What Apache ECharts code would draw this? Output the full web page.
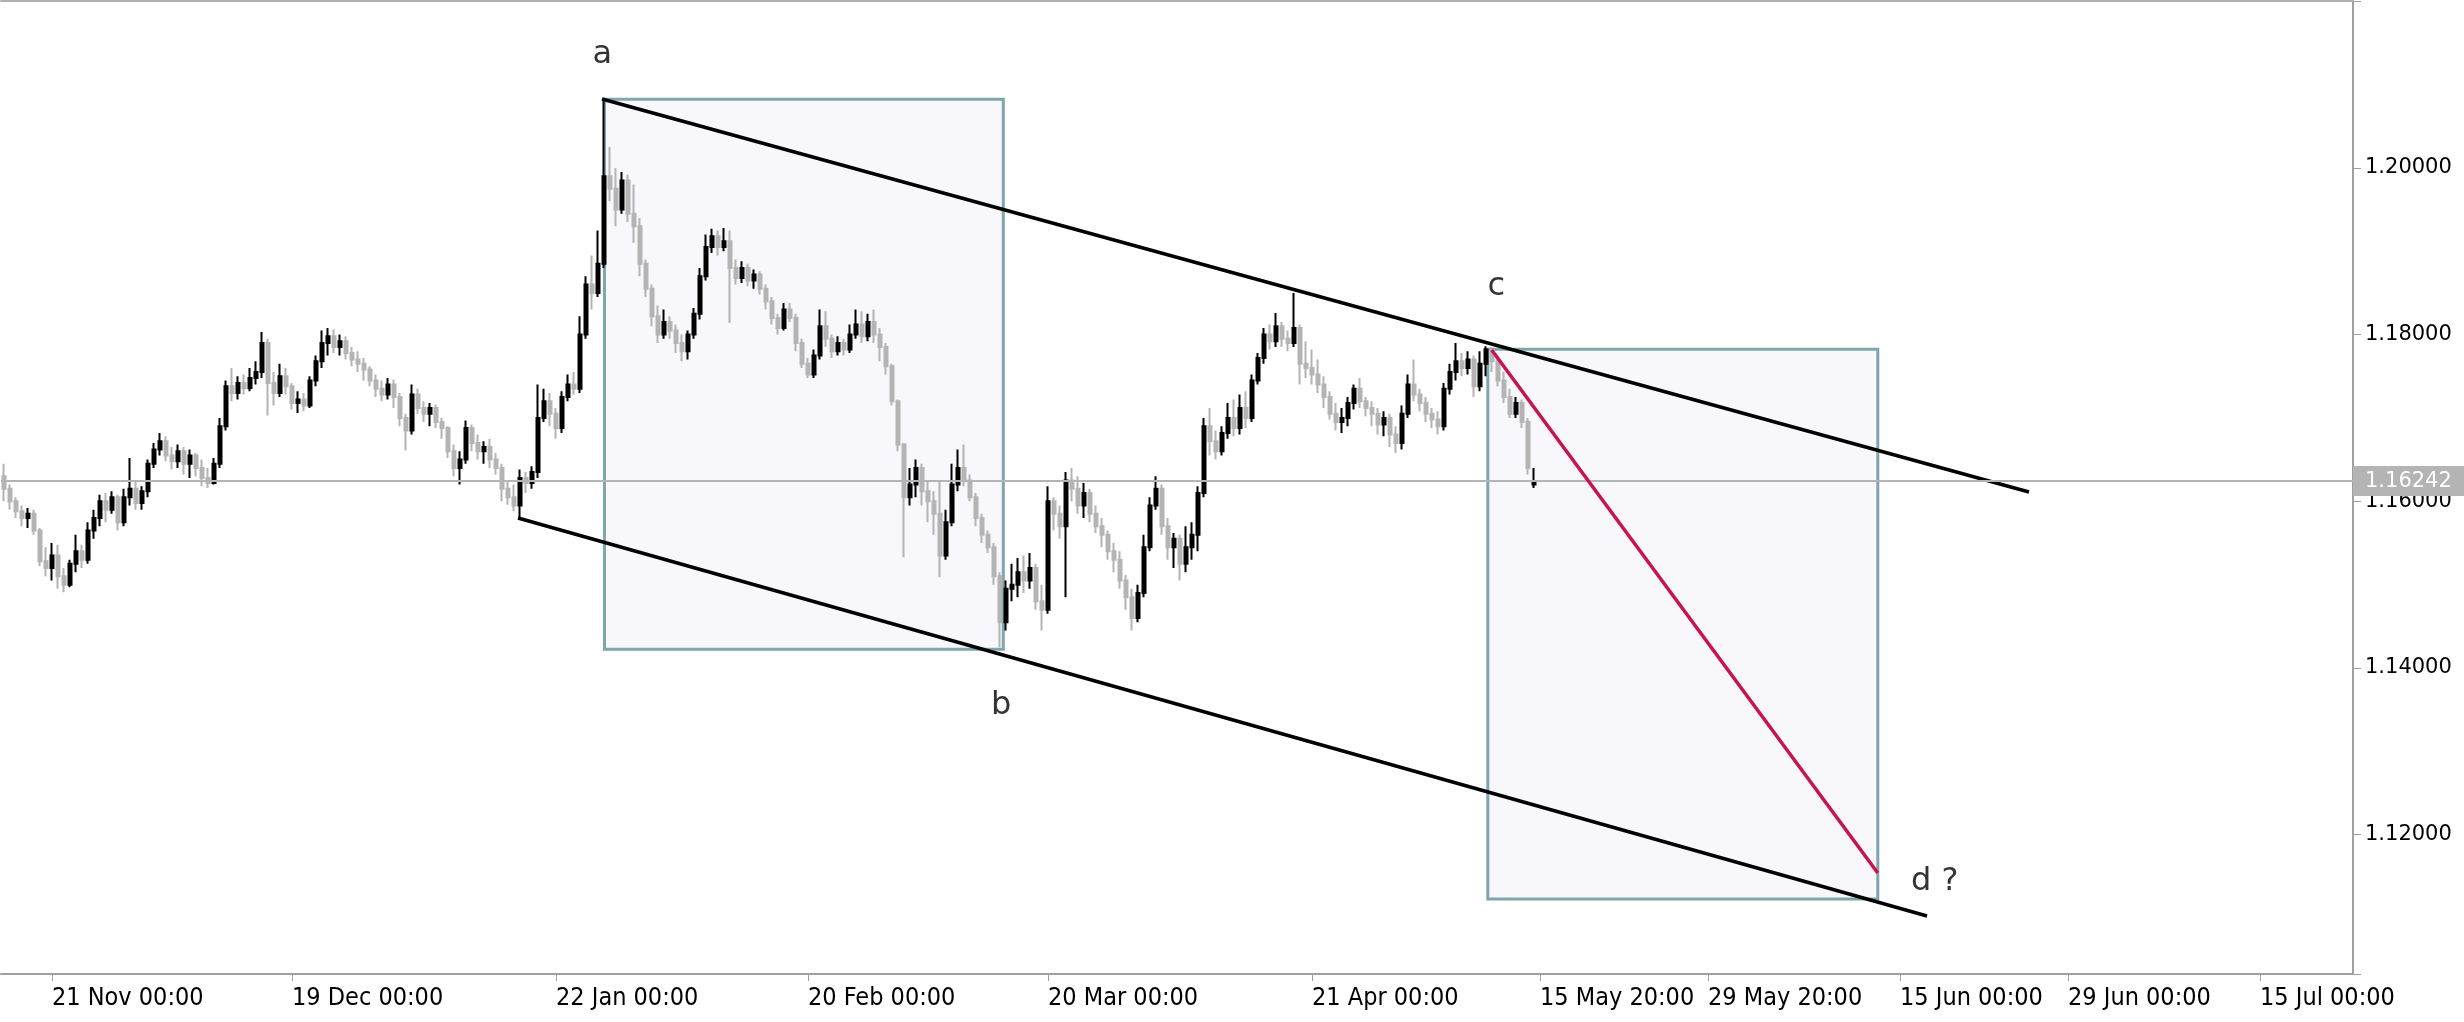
<!DOCTYPE html>
<html><head><meta charset="utf-8">
<script src="https://cdn.jsdelivr.net/npm/echarts@6/dist/echarts.min.js"></script>
<style>html,body{margin:0;padding:0;background:#fff}#c{width:2464px;height:1022px}</style>
</head><body><div id="c"></div>
<script>
// x-axis time labels and the bar slot where each sits
const tickLabels = ['21 Nov 00:00','19 Dec 00:00','22 Jan 00:00','20 Feb 00:00','20 Mar 00:00','21 Apr 00:00','15 May 20:00','29 May 20:00','15 Jun 00:00','29 Jun 00:00','15 Jul 00:00'];
const tickSlots = [8,48,92,134,174,218,256,284,316,344,376];
const slotCount = 392;
const yTickValues = [1.12,1.14,1.16,1.18,1.20];
const yMin = 1.10329, yMax = 1.22002;

// bars: [open, close, low, high]
const candles = [
[1.1630,1.1615,1.1600,1.1645],[1.1615,1.1600,1.1590,1.1620],[1.1600,1.1588,1.1580,1.1605],[1.1588,1.1580,1.1570,1.1595],[1.1580,1.1585,1.1568,1.1592],[1.1585,1.1565,1.1560,1.1590],
[1.1565,1.1528,1.1522,1.1568],[1.1528,1.1520,1.1510,1.1545],[1.1520,1.1535,1.1505,1.1550],[1.1535,1.1510,1.1495,1.1548],[1.1510,1.1500,1.1491,1.1520],[1.1500,1.1525,1.1497,1.1530],
[1.1525,1.1540,1.1515,1.1560],[1.1540,1.1530,1.1520,1.1548],[1.1530,1.1565,1.1525,1.1575],[1.1565,1.1580,1.1555,1.1590],[1.1580,1.1600,1.1570,1.1608],[1.1600,1.1590,1.1575,1.1610],
[1.1590,1.1605,1.1585,1.1612],[1.1605,1.1575,1.1565,1.1608],[1.1575,1.1605,1.1570,1.1615],[1.1605,1.1615,1.1595,1.1652],[1.1615,1.1598,1.1590,1.1625],[1.1598,1.1612,1.1590,1.1618],
[1.1612,1.1645,1.1605,1.1650],[1.1645,1.1662,1.1640,1.1670],[1.1662,1.1672,1.1655,1.1682],[1.1672,1.1655,1.1648,1.1678],[1.1655,1.1648,1.1638,1.1665],[1.1648,1.1660,1.1640,1.1668],
[1.1660,1.1645,1.1632,1.1665],[1.1645,1.1655,1.1628,1.1662],[1.1655,1.1640,1.1630,1.1658],[1.1640,1.1628,1.1618,1.1650],[1.1628,1.1622,1.1616,1.1640],[1.1622,1.1645,1.1620,1.1652],
[1.1645,1.1690,1.1640,1.1700],[1.1690,1.1738,1.1685,1.1745],[1.1738,1.1730,1.1720,1.1760],[1.1730,1.1742,1.1722,1.1750],[1.1742,1.1736,1.1728,1.1752],[1.1736,1.1748,1.1732,1.1760],
[1.1748,1.1755,1.1740,1.1768],[1.1755,1.1790,1.1748,1.1803],[1.1790,1.1742,1.1703,1.1795],[1.1742,1.1730,1.1715,1.1755],[1.1730,1.1750,1.1725,1.1765],[1.1750,1.1738,1.1728,1.1760],
[1.1738,1.1718,1.1710,1.1742],[1.1718,1.1722,1.1706,1.1732],[1.1722,1.1715,1.1708,1.1730],[1.1715,1.1745,1.1712,1.1750],[1.1745,1.1768,1.1738,1.1775],[1.1768,1.1790,1.1760,1.1805],
[1.1790,1.1798,1.1775,1.1808],[1.1798,1.1785,1.1778,1.1806],[1.1785,1.1792,1.1775,1.1800],[1.1792,1.1778,1.1770,1.1798],[1.1778,1.1770,1.1762,1.1785],[1.1770,1.1765,1.1755,1.1780],
[1.1765,1.1758,1.1745,1.1772],[1.1758,1.1745,1.1738,1.1762],[1.1745,1.1735,1.1725,1.1752],[1.1735,1.1728,1.1720,1.1745],[1.1728,1.1740,1.1722,1.1748],[1.1740,1.1725,1.1712,1.1746],
[1.1725,1.1700,1.1690,1.1730],[1.1700,1.1685,1.1661,1.1705],[1.1685,1.1728,1.1680,1.1740],[1.1728,1.1712,1.1705,1.1735],[1.1712,1.1705,1.1695,1.1720],[1.1705,1.1712,1.1690,1.1718],
[1.1712,1.1695,1.1688,1.1716],[1.1695,1.1688,1.1675,1.1700],[1.1688,1.1660,1.1652,1.1690],[1.1660,1.1640,1.1630,1.1668],[1.1640,1.1650,1.1620,1.1660],[1.1650,1.1688,1.1645,1.1697],
[1.1688,1.1670,1.1660,1.1692],[1.1670,1.1660,1.1650,1.1680],[1.1660,1.1665,1.1645,1.1672],[1.1665,1.1650,1.1640,1.1675],[1.1650,1.1640,1.1632,1.1658],[1.1640,1.1615,1.1600,1.1645],
[1.1615,1.1605,1.1596,1.1625],[1.1605,1.1595,1.1588,1.1620],[1.1595,1.1628,1.1581,1.1638],[1.1628,1.1622,1.1610,1.1635],[1.1622,1.1635,1.1615,1.1642],[1.1635,1.1700,1.1628,1.1740],
[1.1700,1.1720,1.1695,1.1735],[1.1720,1.1705,1.1690,1.1730],[1.1705,1.1688,1.1675,1.1712],[1.1688,1.1725,1.1682,1.1732],[1.1725,1.1740,1.1720,1.1752],[1.1740,1.1735,1.1728,1.1755],
[1.1735,1.1800,1.1730,1.1822],[1.1800,1.1860,1.1795,1.1870],[1.1860,1.1850,1.1830,1.1895],[1.1850,1.1885,1.1845,1.1925],[1.1885,1.1990,1.1880,1.2081],[1.1990,1.1975,1.1960,1.2025],
[1.1975,1.1950,1.1930,1.2000],[1.1950,1.1985,1.1945,1.1995],[1.1985,1.1945,1.1935,1.1992],[1.1945,1.1930,1.1910,1.1980],[1.1930,1.1885,1.1870,1.1940],[1.1885,1.1855,1.1845,1.1890],
[1.1855,1.1822,1.1810,1.1860],[1.1822,1.1800,1.1790,1.1835],[1.1800,1.1815,1.1795,1.1830],[1.1815,1.1805,1.1795,1.1822],[1.1805,1.1790,1.1778,1.1812],[1.1790,1.1780,1.1768,1.1800],
[1.1780,1.1800,1.1770,1.1805],[1.1800,1.1825,1.1795,1.1832],[1.1825,1.1870,1.1818,1.1880],[1.1870,1.1905,1.1865,1.1920],[1.1905,1.1918,1.1898,1.1927],[1.1918,1.1905,1.1895,1.1925],
[1.1905,1.1912,1.1900,1.1928],[1.1912,1.1880,1.1814,1.1925],[1.1880,1.1868,1.1860,1.1890],[1.1868,1.1880,1.1862,1.1888],[1.1880,1.1865,1.1858,1.1885],[1.1865,1.1872,1.1855,1.1878],
[1.1872,1.1855,1.1848,1.1876],[1.1855,1.1840,1.1830,1.1860],[1.1840,1.1820,1.1812,1.1845],[1.1820,1.1808,1.1800,1.1825],[1.1808,1.1830,1.1805,1.1838],[1.1830,1.1820,1.1815,1.1838],
[1.1820,1.1790,1.1780,1.1825],[1.1790,1.1765,1.1760,1.1795],[1.1765,1.1752,1.1748,1.1772],[1.1752,1.1775,1.1748,1.1782],[1.1775,1.1810,1.1770,1.1830],[1.1810,1.1795,1.1785,1.1828],
[1.1795,1.1780,1.1772,1.1800],[1.1780,1.1790,1.1775,1.1798],[1.1790,1.1782,1.1775,1.1795],[1.1782,1.1800,1.1778,1.1812],[1.1800,1.1812,1.1795,1.1830],[1.1812,1.1798,1.1790,1.1828],
[1.1798,1.1815,1.1792,1.1825],[1.1815,1.1800,1.1790,1.1830],[1.1800,1.1785,1.1768,1.1808],[1.1785,1.1762,1.1752,1.1790],[1.1762,1.1720,1.1715,1.1765],[1.1720,1.1668,1.1660,1.1722],
[1.1668,1.1605,1.1533,1.1670],[1.1605,1.1620,1.1595,1.1640],[1.1620,1.1640,1.1605,1.1650],[1.1640,1.1612,1.1595,1.1645],[1.1612,1.1600,1.1575,1.1625],[1.1600,1.1585,1.1560,1.1612],
[1.1585,1.1535,1.1509,1.1625],[1.1535,1.1575,1.1530,1.1590],[1.1575,1.1620,1.1570,1.1645],[1.1620,1.1640,1.1612,1.1662],[1.1640,1.1625,1.1618,1.1668],[1.1625,1.1605,1.1600,1.1632],
[1.1605,1.1580,1.1570,1.1610],[1.1580,1.1560,1.1550,1.1585],[1.1560,1.1545,1.1538,1.1565],[1.1545,1.1510,1.1500,1.1550],[1.1510,1.1455,1.1425,1.1515],[1.1455,1.1495,1.1445,1.1505],
[1.1495,1.1500,1.1480,1.1525],[1.1500,1.1515,1.1485,1.1532],[1.1515,1.1505,1.1490,1.1535],[1.1505,1.1520,1.1495,1.1538],[1.1520,1.1480,1.1470,1.1525],[1.1480,1.1470,1.1445,1.1500],
[1.1470,1.1600,1.1465,1.1618],[1.1600,1.1585,1.1565,1.1605],[1.1585,1.1570,1.1555,1.1595],[1.1570,1.1625,1.1485,1.1635],[1.1625,1.1615,1.1600,1.1640],[1.1615,1.1595,1.1585,1.1630],
[1.1595,1.1610,1.1580,1.1622],[1.1610,1.1585,1.1575,1.1615],[1.1585,1.1570,1.1562,1.1595],[1.1570,1.1560,1.1545,1.1580],[1.1560,1.1540,1.1530,1.1565],[1.1540,1.1530,1.1515,1.1550],
[1.1530,1.1505,1.1495,1.1540],[1.1505,1.1485,1.1470,1.1512],[1.1485,1.1460,1.1445,1.1495],[1.1460,1.1490,1.1455,1.1500],[1.1490,1.1545,1.1485,1.1560],[1.1545,1.1595,1.1540,1.1605],
[1.1595,1.1615,1.1590,1.1630],[1.1615,1.1570,1.1560,1.1620],[1.1570,1.1545,1.1530,1.1580],[1.1545,1.1555,1.1520,1.1562],[1.1555,1.1525,1.1505,1.1560],[1.1525,1.1545,1.1515,1.1570],
[1.1545,1.1560,1.1530,1.1575],[1.1560,1.1610,1.1540,1.1618],[1.1610,1.1690,1.1605,1.1700],[1.1690,1.1672,1.1655,1.1712],[1.1672,1.1660,1.1650,1.1685],[1.1660,1.1682,1.1655,1.1690],
[1.1682,1.1700,1.1675,1.1718],[1.1700,1.1688,1.1678,1.1722],[1.1688,1.1712,1.1680,1.1728],[1.1712,1.1700,1.1688,1.1732],[1.1700,1.1745,1.1695,1.1752],[1.1745,1.1772,1.1740,1.1778],
[1.1772,1.1800,1.1765,1.1808],[1.1800,1.1792,1.1782,1.1812],[1.1792,1.1810,1.1785,1.1826],[1.1810,1.1795,1.1785,1.1815],[1.1795,1.1790,1.1780,1.1805],[1.1790,1.1808,1.1785,1.1850],
[1.1808,1.1765,1.1740,1.1812],[1.1765,1.1760,1.1748,1.1792],[1.1760,1.1752,1.1740,1.1782],[1.1752,1.1740,1.1730,1.1770],[1.1740,1.1725,1.1712,1.1750],[1.1725,1.1705,1.1698,1.1732],
[1.1705,1.1695,1.1685,1.1718],[1.1695,1.1700,1.1682,1.1712],[1.1700,1.1718,1.1690,1.1725],[1.1718,1.1735,1.1710,1.1740],[1.1735,1.1720,1.1712,1.1748],[1.1720,1.1712,1.1702,1.1725],
[1.1712,1.1705,1.1690,1.1720],[1.1705,1.1692,1.1680,1.1712],[1.1692,1.1700,1.1678,1.1708],[1.1700,1.1680,1.1665,1.1705],[1.1680,1.1670,1.1658,1.1690],[1.1670,1.1705,1.1662,1.1715],
[1.1705,1.1740,1.1700,1.1752],[1.1740,1.1728,1.1720,1.1770],[1.1728,1.1718,1.1708,1.1735],[1.1718,1.1705,1.1695,1.1725],[1.1705,1.1698,1.1688,1.1712],[1.1698,1.1690,1.1680,1.1708],
[1.1690,1.1735,1.1685,1.1742],[1.1735,1.1755,1.1728,1.1765],[1.1755,1.1768,1.1745,1.1790],[1.1768,1.1760,1.1750,1.1778],[1.1760,1.1770,1.1752,1.1780],[1.1770,1.1738,1.1725,1.1775],
[1.1738,1.1765,1.1732,1.1780],[1.1765,1.1782,1.1750,1.1786],[1.1782,1.1768,1.1755,1.1785],[1.1768,1.1745,1.1738,1.1775],[1.1745,1.1725,1.1718,1.1755],[1.1725,1.1705,1.1700,1.1735],
[1.1705,1.1718,1.1700,1.1725],[1.1718,1.1695,1.1688,1.1722],[1.1695,1.1640,1.1632,1.1700],[1.1620,1.16242,1.1616,1.1640]
];
const lastPrice = 1.16242;

// annotations in (slot position, price)
const channelUpper = [[100.17,1.20827],[338.0,1.16112]];
const channelLower = [[86.17,1.15800],[321.0,1.11025]];
const projection = [[248.45,1.17815],[312.8,1.11540]];
const boxA = [[100.58,1.20823],[167.05,1.14224]];
const boxB = [[247.8,1.17824],[312.8,1.11229]];
const waveLabels = ['a','b','c','d ?'];
const wavePoints = [[100.2,1.21355],[166.7,1.13544],[249.2,1.18571],[322.3,1.11433]];

const categories = Array.from({length: slotCount}, (_, i) => {
  const k = tickSlots.indexOf(i);
  return k >= 0 ? tickLabels[k] : String(i);
});
const showTick = (idx) => tickSlots.indexOf(idx) >= 0;

const chart = echarts.init(document.getElementById('c'), null, {renderer: 'canvas'});
const boxStyle = {color: '#f7f7fc', borderColor: '#7fa6ab', borderWidth: 3};
chart.setOption({
  animation: false,
  backgroundColor: '#ffffff',
  grid: {left: 1, right: 111, top: 1, bottom: 48},
  xAxis: [{
    type: 'category', data: categories, boundaryGap: true,
    axisLine: {onZero: false, lineStyle: {color: '#a0a0a0', width: 2}},
    axisTick: {show: true, interval: showTick, alignWithLabel: true, length: 7, lineStyle: {color: '#a0a0a0', width: 1}},
    axisLabel: {interval: showTick, align: 'left', margin: 12, fontSize: 25, lineHeight: 25,
      fontFamily: "'Liberation Sans Narrow','DejaVu Sans Condensed',sans-serif", color: '#000'},
    splitLine: {show: false}
  }, {
    type: 'value', min: 0, max: slotCount, position: 'top',
    axisLine: {show: true, onZero: false, lineStyle: {color: '#b0b0b0', width: 2}},
    axisTick: {show: false}, axisLabel: {show: false}, splitLine: {show: false}
  }],
  yAxis: [{
    type: 'value', position: 'right', min: yMin, max: yMax,
    axisLine: {show: true, onZero: false, lineStyle: {color: '#a0a0a0', width: 2}},
    axisTick: {show: true, length: 8, lineStyle: {color: '#a0a0a0', width: 1}},
    axisLabel: {margin: 12, fontSize: 21, fontFamily: "'DejaVu Sans',sans-serif", color: '#000',
      formatter: v => yTickValues.some(t => Math.abs(t - v) < 1e-7) ? v.toFixed(5) : ''},
    splitLine: {show: false}
  }],
  series: [{
    type: 'line', name: 'zones', xAxisIndex: 1, yAxisIndex: 0, data: [], z: 1, silent: true,
    markArea: {silent: true, itemStyle: boxStyle, data: [
      [{coord: boxA[0]}, {coord: boxA[1]}],
      [{coord: boxB[0]}, {coord: boxB[1]}]
    ]}
  }, {
    type: 'candlestick', name: 'price', xAxisIndex: 0, yAxisIndex: 0, data: candles, z: 3,
    barWidth: 3,
    itemStyle: {color: '#000000', color0: '#b4b4b4', borderColor: '#000000', borderColor0: '#b4b4b4', borderWidth: 2},
    markLine: {silent: true, symbol: ['none','none'], precision: 5,
      lineStyle: {color: '#b4b4b4', width: 2, type: 'solid'},
      label: {show: true, position: 'end', distance: 0, formatter: () => lastPrice.toFixed(5),
        backgroundColor: '#b4b4b4', color: '#ffffff', padding: [5, 18, 4, 12], fontSize: 21,
        fontFamily: "'DejaVu Sans',sans-serif"},
      data: [{yAxis: lastPrice}]}
  }, {
    type: 'line', name: 'upper', xAxisIndex: 1, data: channelUpper, z: 4, showSymbol: false, symbol: 'none',
    lineStyle: {color: '#000000', width: 3.5}, silent: true
  }, {
    type: 'line', name: 'lower', xAxisIndex: 1, data: channelLower, z: 4, showSymbol: false, symbol: 'none',
    lineStyle: {color: '#000000', width: 3.5}, silent: true
  }, {
    type: 'line', name: 'projection', xAxisIndex: 1, data: projection, z: 5, showSymbol: false, symbol: 'none',
    lineStyle: {color: '#c8144c', width: 3.5}, silent: true
  }, {
    type: 'scatter', name: 'waves', xAxisIndex: 1, z: 6, symbolSize: 0, silent: true,
    data: wavePoints.map((p, i) => ({value: p, name: waveLabels[i]})),
    label: {show: true, position: 'inside', formatter: '{b}', fontSize: 32, color: '#000',
      fontFamily: "'DejaVu Sans',sans-serif"}
  }]
});
</script></body></html>
